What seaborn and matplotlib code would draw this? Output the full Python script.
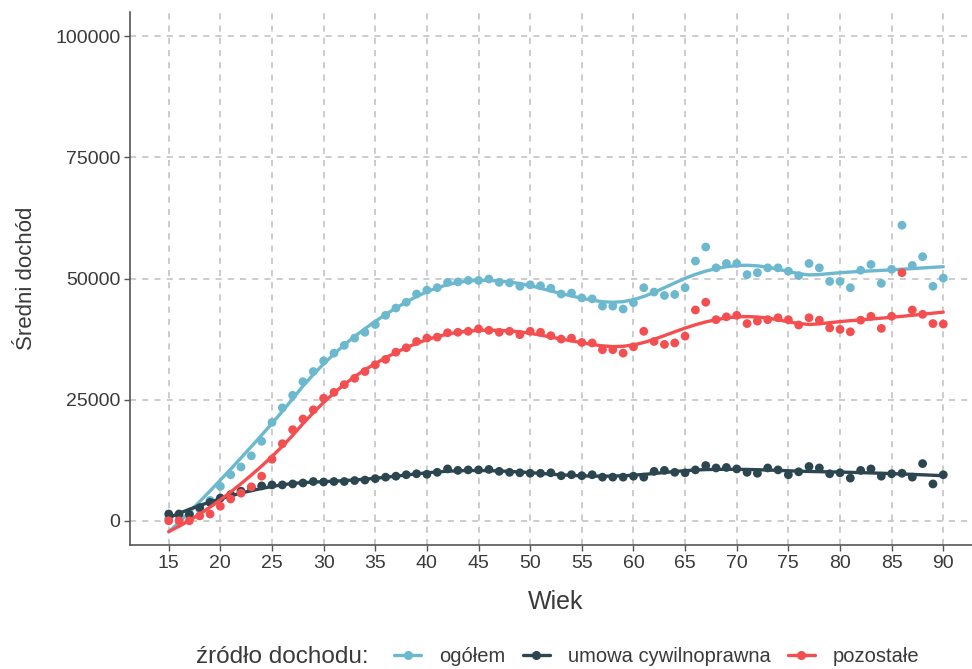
import numpy as np
import pandas as pd
import matplotlib
matplotlib.use("Agg")
import matplotlib.pyplot as plt
from matplotlib.lines import Line2D
import seaborn as sns

ages = list(range(15, 91))

ogolem = [500, 1000, 1500, 2500, 4200, 7100, 9500, 11100, 13400, 16400,
          20300, 23300, 25900, 28700, 30800, 33000, 34600, 36200, 37700, 38900,
          40500, 42400, 43900, 45100, 46800, 47600, 48100, 49200, 49300, 49600,
          49600, 49900, 49200, 49100, 48400, 48700, 48500, 48000, 46800, 47000,
          46000, 45800, 44300, 44300, 43700, 45000, 48100, 47200, 46500, 46700,
          48100, 53600, 56500, 52200, 53100, 53100, 50800, 51200, 52200, 52200,
          51500, 50600, 53100, 52200, 49400, 49400, 48100, 51700, 52900, 49000,
          51900, 61000, 52700, 54500, 48400, 50100]

umowa = [1400, 1400, 1300, 2700, 3800, 4700, 5400, 6100, 6800, 7200,
         7400, 7400, 7600, 7800, 8100, 8000, 8100, 8100, 8300, 8400,
         8700, 9000, 9200, 9500, 9700, 9600, 10000, 10700, 10400, 10500,
         10500, 10600, 10200, 10000, 9900, 9800, 9800, 9900, 9300, 9500,
         9300, 9500, 9000, 9000, 9000, 9200, 9000, 10200, 10400, 10000,
         9900, 10500, 11400, 10900, 11000, 10700, 10000, 9800, 10900, 10500,
         9500, 10100, 11200, 10900, 9700, 9900, 8800, 10400, 10700, 9200,
         9700, 9800, 9000, 11800, 7600, 9500]

pozostale = [0, 0, 0, 1000, 1400, 3000, 4500, 5700, 7000, 9200,
             12700, 15900, 18800, 21000, 22900, 25300, 26500, 28100, 29400, 30800,
             32200, 33300, 34800, 35700, 37000, 37700, 37900, 38800, 38900, 39100,
             39600, 39300, 38900, 39100, 38400, 39100, 38900, 38200, 37500, 37700,
             36800, 36700, 35300, 35300, 34600, 35900, 39100, 37000, 36400, 36700,
             38100, 43500, 45100, 41500, 42100, 42400, 40700, 41200, 41500, 41900,
             41500, 40400, 41900, 41400, 39800, 39500, 39000, 41400, 42200, 39700,
             42200, 51200, 43500, 42600, 40700, 40600]

series_names = ["ogółem", "umowa cywilnoprawna", "pozostałe"]
series_values = [ogolem, umowa, pozostale]
palette = {"ogółem": "#6CB8CF", "umowa cywilnoprawna": "#2C4650", "pozostałe": "#F44E50"}

y_ticks = [0, 25000, 50000, 75000, 100000]
x_ticks = list(range(15, 91, 5))


def loess(x, y, span=0.35):
    x = np.asarray(x, float)
    y = np.asarray(y, float)
    n = len(x)
    k = int(np.ceil(span * n))
    out = np.empty(n)
    for i, x0 in enumerate(x):
        d = np.abs(x - x0)
        h = np.sort(d)[k - 1] * 1.0001
        w = np.clip(1 - (d / h) ** 3, 0, None) ** 3
        X = np.vstack([np.ones(n), x - x0, (x - x0) ** 2]).T
        W = np.sqrt(w)
        beta, *_ = np.linalg.lstsq(X * W[:, None], y * W, rcond=None)
        out[i] = beta[0]
    return out


rows = []
for name, vals in zip(series_names, series_values):
    sm = loess(ages, vals)
    for a, v, s in zip(ages, vals, sm):
        rows.append({"wiek": a, "dochod": v, "smooth": s, "zrodlo": name})
df = pd.DataFrame(rows)

sns.set_style("white")
plt.rcParams["font.family"] = ["Liberation Sans", "DejaVu Sans"]

fig = plt.figure(figsize=(9.72, 6.69), dpi=100)
ax = fig.add_axes([130 / 972, 1 - 545 / 669, (982 - 130) / 972, (545 - 12) / 669])

for name in series_names:
    sub = df[df["zrodlo"] == name]
    sns.scatterplot(data=sub, x="wiek", y="dochod", color=palette[name], s=40,
                    edgecolor="none", ax=ax, zorder=3, legend=False)
    sns.lineplot(data=sub, x="wiek", y="smooth", color=palette[name], lw=2.4,
                 ax=ax, zorder=3, legend=False)

ax.set_xlim(11.25, 93.75)
ax.set_ylim(-5000, 105000)
ax.set_xticks(x_ticks)
ax.set_yticks(y_ticks)
ax.set_xticklabels([str(t) for t in x_ticks])
ax.set_yticklabels([str(t) for t in y_ticks])
ax.grid(True, color="#BEBEBE", linestyle=(0, (4, 4)), linewidth=1.1, zorder=0)
ax.set_axisbelow(True)
for side in ["top", "right"]:
    ax.spines[side].set_visible(False)
for side in ["left", "bottom"]:
    ax.spines[side].set_color("#555555")
    ax.spines[side].set_linewidth(1.2)
ax.tick_params(axis="both", direction="out", length=4, width=1, color="#555555",
               labelsize=14, labelcolor="#3A3A3A", pad=3, bottom=True, left=True)
ax.set_xlabel("Wiek", fontsize=18, color="#3A3A3A", labelpad=13)
ax.set_ylabel("Średni dochód", fontsize=16, color="#3A3A3A", labelpad=13)

fig.text(196 / 972, 1 - 657 / 669, "źródło dochodu:", fontsize=17.5, color="#3A3A3A",
         va="center", ha="left")
handles = [Line2D([0], [0], color=palette[n], lw=2.4, marker="o", markersize=5.5)
           for n in series_names]
fig.legend(handles, series_names, loc="center left", ncol=3,
           bbox_to_anchor=(394 / 972, 1 - 657 / 669), frameon=False,
           fontsize=14.5, handlelength=1.35, handletextpad=0.9, columnspacing=0.85,
           labelcolor="#3A3A3A", borderaxespad=0, borderpad=0)

fig.savefig("out.png", dpi=100)
